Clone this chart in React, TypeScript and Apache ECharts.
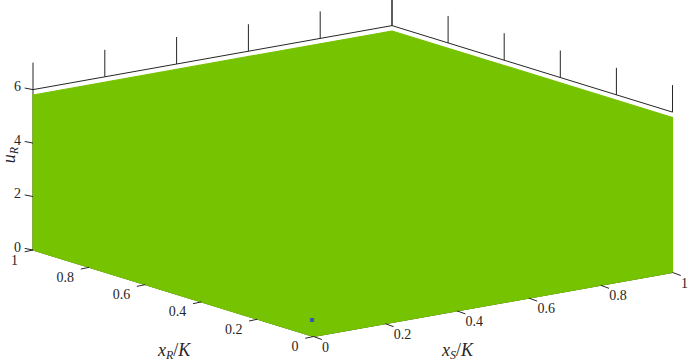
import React, { useEffect, useRef } from 'react';
import * as echarts from 'echarts';

// ---- data ----
const xSTicks = [0, 0.2, 0.4, 0.6, 0.8, 1];
const xSTickLabels = ['0', '0.2', '0.4', '0.6', '0.8', '1'];
const xRTicks = [0, 0.2, 0.4, 0.6, 0.8, 1];
const xRTickLabels = ['0', '0.2', '0.4', '0.6', '0.8', '1'];
const uRTicks = [0, 2, 4, 6];
const uRTickLabels = ['0', '2', '4', '6'];
const uRMax = 6;

// surface u_R(xS, xR) on a coarse grid (flat plateau)
const surfXS = [0, 1];
const surfXR = [0, 1];
const surfUR = [
  [5.8, 5.8],
  [5.8, 5.8],
];

// marked point [xS, xR, uR]
const markerPoint = [0, 0.005, 0.6];

// ---- view (layout) ----
const W = 691;
const H = 363;
const ORIGIN = [313.5, 336.5];
const VS = [359, -64];
const VR = [-280.5, -86.5];
const KZ = 26.73;
const GREEN = '#76c301';
const INK = '#262626';
const FAMILY = 'Liberation Serif';

const proj = (xs: number, xr: number, z: number): number[] => [
  ORIGIN[0] + xs * VS[0] + xr * VR[0],
  ORIGIN[1] + xs * VS[1] + xr * VR[1] - z * KZ,
];

const richMath = {
  i: { fontFamily: FAMILY, fontSize: 18, fontStyle: 'italic', fill: INK, lineHeight: 21 },
  n: { fontFamily: FAMILY, fontSize: 18, fill: INK, lineHeight: 21 },
  s: { fontFamily: FAMILY, fontSize: 12, fontStyle: 'italic', fill: INK, lineHeight: 15, verticalAlign: 'bottom' },
};

export default function App() {
  const ref = useRef<HTMLDivElement>(null);
  useEffect(() => {
    if (!ref.current) return;
    const chart = echarts.init(ref.current, undefined, { renderer: 'svg' });

    const line = (a: number[], b: number[], w = 1) => ({
      type: 'line',
      shape: { x1: a[0], y1: a[1], x2: b[0], y2: b[1] },
      style: { stroke: INK, lineWidth: w },
    });

    const option: any = {
      animation: false,
      textStyle: { fontFamily: FAMILY },
      grid: { left: 0, right: 0, top: 0, bottom: 0 },
      xAxis: { type: 'value', min: 0, max: W, show: false },
      yAxis: { type: 'value', min: 0, max: H, inverse: true, show: false },
      series: [
        // box lines / axis lines (behind surface)
        {
          type: 'custom',
          z: 1,
          silent: true,
          data: [[0]],
          renderItem: (_p: any, api: any) => {
            const P = (xs: number, xr: number, z: number) => api.coord(proj(xs, xr, z));
            const ch: any[] = [];
            ch.push(line(P(0, 1, uRMax), P(1, 1, uRMax)));
            ch.push(line(P(1, 1, uRMax), P(1, 0, uRMax)));
            ch.push(line(P(0, 1, 0), P(0, 1, uRMax)));
            ch.push(line(P(0, 1, 0), P(0, 0, 0)));
            ch.push(line(P(0, 0, 0), P(1, 0, 0)));
            // vertical ticks on top edges
            xSTicks.forEach((v) => {
              const a = P(v, 1, uRMax);
              ch.push(line(a, [a[0], a[1] - 27]));
            });
            xRTicks.forEach((v) => {
              const a = P(1, v, uRMax);
              ch.push(line(a, [a[0], a[1] - 27]));
            });
            return { type: 'group', children: ch };
          },
        },
        // surface with side walls
        {
          type: 'custom',
          z: 2,
          silent: true,
          data: [[0]],
          renderItem: (_p: any, api: any) => {
            const P = (xs: number, xr: number, z: number) => api.coord(proj(xs, xr, z));
            const ch: any[] = [];
            const st = { fill: GREEN, stroke: GREEN, lineWidth: 1.2, lineJoin: 'round' };
            // wall along xS = 0
            for (let j = 0; j < surfXR.length - 1; j++) {
              ch.push({
                type: 'polygon',
                shape: {
                  points: [
                    P(surfXS[0], surfXR[j], 0),
                    P(surfXS[0], surfXR[j + 1], 0),
                    P(surfXS[0], surfXR[j + 1], surfUR[j + 1][0]),
                    P(surfXS[0], surfXR[j], surfUR[j][0]),
                  ],
                },
                style: st,
              });
            }
            // wall along xR = 0
            for (let i = 0; i < surfXS.length - 1; i++) {
              ch.push({
                type: 'polygon',
                shape: {
                  points: [
                    P(surfXS[i], surfXR[0], 0),
                    P(surfXS[i + 1], surfXR[0], 0),
                    P(surfXS[i + 1], surfXR[0], surfUR[0][i + 1]),
                    P(surfXS[i], surfXR[0], surfUR[0][i]),
                  ],
                },
                style: st,
              });
            }
            for (let j = 0; j < surfXR.length - 1; j++) {
              for (let i = 0; i < surfXS.length - 1; i++) {
                ch.push({
                  type: 'polygon',
                  shape: {
                    points: [
                      P(surfXS[i], surfXR[j], surfUR[j][i]),
                      P(surfXS[i + 1], surfXR[j], surfUR[j][i + 1]),
                      P(surfXS[i + 1], surfXR[j + 1], surfUR[j + 1][i + 1]),
                      P(surfXS[i], surfXR[j + 1], surfUR[j + 1][i]),
                    ],
                  },
                  style: st,
                });
              }
            }
            return { type: 'group', children: ch };
          },
        },
        // ticks, tick labels, axis titles
        {
          type: 'custom',
          z: 3,
          silent: true,
          data: [[0]],
          renderItem: (_p: any, api: any) => {
            const P = (xs: number, xr: number, z: number) => api.coord(proj(xs, xr, z));
            const ch: any[] = [];
            const txt = (s: string, x: number, y: number, align: string) => ({
              type: 'text',
              style: {
                text: s, x, y, align, verticalAlign: 'middle',
                fill: INK, fontFamily: FAMILY, fontSize: 14, font: '14px ' + FAMILY,
              },
            });
            uRTicks.forEach((v, k) => {
              const a = P(0, 1, v);
              ch.push(line(a, [a[0] - 8.3, a[1] - 1.6]));
              ch.push(txt(uRTickLabels[k], a[0] - 12, a[1] - 3, 'right'));
            });
            xRTicks.forEach((v, k) => {
              const a = P(0, v, 0);
              ch.push(line(a, [a[0] - 8.3, a[1] + 1.8]));
              ch.push(txt(xRTickLabels[k], a[0] - 15, a[1] + 10, 'right'));
            });
            xSTicks.forEach((v, k) => {
              const a = P(v, 0, 0);
              ch.push(line(a, [a[0] + 8.3, a[1] + 3]));
              ch.push(txt(xSTickLabels[k], a[0] + 8.5, a[1] + 10.5, 'left'));
            });
            ch.push({
              type: 'text',
              style: { text: '{i|x}{s|R}{n|/}{i|K}', rich: richMath, x: 158, y: 350, align: 'left', verticalAlign: 'middle' },
            });
            ch.push({
              type: 'text',
              style: { text: '{i|x}{s|S}{n|/}{i|K}', rich: richMath, x: 442, y: 350, align: 'left', verticalAlign: 'middle' },
            });
            ch.push({
              type: 'text',
              x: 9,
              y: 155,
              rotation: Math.PI / 2,
              style: { text: '{i|u}{s|R}', rich: richMath, x: 0, y: 0, align: 'center', verticalAlign: 'middle' },
            });
            return { type: 'group', children: ch };
          },
        },
        // marked point
        {
          type: 'custom',
          z: 4,
          silent: true,
          data: [markerPoint],
          renderItem: (_p: any, api: any) => {
            const c = api.coord(proj(api.value(0), api.value(1), api.value(2)));
            return {
              type: 'rect',
              shape: { x: c[0] - 2, y: c[1] - 2, width: 4, height: 4 },
              style: { fill: '#3557b3' },
            };
          },
        },
      ],
    };
    chart.setOption(option);
    return () => chart.dispose();
  }, []);

  return (
    <div
      ref={ref}
      style={{ position: 'fixed', left: 0, top: 0, width: W, height: H, background: '#fff' }}
    />
  );
}
